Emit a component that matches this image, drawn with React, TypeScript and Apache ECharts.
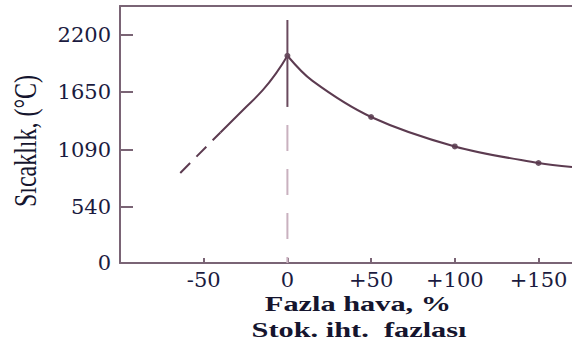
import React, { useEffect, useRef } from "react";
import * as echarts from "echarts";

const xTicks = [-50, 0, 50, 100, 150];
const yTicks = [0, 540, 1090, 1650, 2200];

const riseDashedX = [-64, -40];
const riseDashedY = [869, 1260];
const riseSolidX = [-40, -26.5, -14.6, -6.2, 0];
const riseSolidY = [1260, 1477, 1670, 1844, 2000];
const fallX = [0, 15, 50, 100, 150, 170];
const fallY = [2000, 1757, 1409, 1125, 965, 927];
const markerX = [0, 50, 100, 150];
const markerY = [2000, 1409, 1125, 965];
const stoichTopY = [2345, 1506];
const stoichDashY = [1332, 0];

const zip = (xs: number[], ys: number[]) => xs.map((x, i) => [x, ys[i]]);

const AXIS = "#7a6475";
const CURVE = "#5c3b50";
const LABEL = "#1b1b40";

export default function App() {
  const ref = useRef<HTMLDivElement>(null);
  useEffect(() => {
    if (!ref.current) return;
    const chart = echarts.init(ref.current, null, { renderer: "svg" });
    chart.setOption({
      animation: false,
      grid: { left: 120, right: 0, top: 6, bottom: 84, containLabel: false },
      xAxis: [
        {
          type: "value",
          min: -100,
          max: 170,
          position: "bottom",
          axisLine: { show: true, onZero: false, lineStyle: { color: AXIS, width: 2 } },
          axisTick: { show: true, inside: true, length: 5, customValues: xTicks, lineStyle: { color: AXIS, width: 2 } },
          axisLabel: {
            customValues: xTicks,
            formatter: (v: number) => (v > 0 ? "+" + v : String(v)),
            margin: 6,
            color: LABEL,
            fontFamily: "DejaVu Serif",
            fontSize: 21,
          },
          splitLine: { show: false },
        },
        {
          type: "value",
          min: -100,
          max: 170,
          position: "top",
          axisLine: { show: true, onZero: false, lineStyle: { color: AXIS, width: 2 } },
          axisTick: { show: false },
          axisLabel: { show: false },
          splitLine: { show: false },
        },
      ],
      yAxis: {
        type: "value",
        min: 0,
        max: 2480,
        axisLine: { show: true, onZero: false, lineStyle: { color: AXIS, width: 2 } },
        axisTick: { show: true, inside: true, length: 13, customValues: yTicks, lineStyle: { color: AXIS, width: 2 } },
        axisLabel: {
          customValues: yTicks,
          formatter: (v: number) => String(v),
          margin: 9,
          color: LABEL,
          fontFamily: "DejaVu Serif",
          fontSize: 21,
        },
        splitLine: { show: false },
      },
      series: [
        {
          type: "line",
          data: zip(riseDashedX, riseDashedY),
          symbol: "none",
          lineStyle: { color: CURVE, width: 2, type: [14, 9] },
        },
        {
          type: "line",
          data: zip(riseSolidX, riseSolidY),
          symbol: "none",
          smooth: 0.45,
          lineStyle: { color: CURVE, width: 2 },
        },
        {
          type: "line",
          data: zip(fallX, fallY),
          symbol: "none",
          smooth: 0.35,
          lineStyle: { color: CURVE, width: 2 },
        },
        {
          type: "scatter",
          data: zip(markerX, markerY),
          symbol: "circle",
          symbolSize: 6,
          itemStyle: { color: "#4a2c40" },
        },
        {
          type: "line",
          data: stoichTopY.map((y) => [0, y]),
          symbol: "none",
          lineStyle: { color: "#6a4a5e", width: 2 },
        },
        {
          type: "line",
          data: stoichDashY.map((y) => [0, y]),
          symbol: "none",
          lineStyle: { color: "#c9b1bf", width: 2, type: [26, 18] },
        },
      ],
      graphic: [
        {
          type: "text",
          x: 25,
          y: 141,
          rotation: Math.PI / 2,
          scaleY: 1.35,
          style: {
            text: "Sıcaklık, (°C)",
            fontFamily: "Liberation Serif",
            fontSize: 24,
            fill: "#15152e",
            textAlign: "center",
            textVerticalAlign: "middle",
            align: "center",
            verticalAlign: "middle",
          },
        },
        {
          type: "text",
          x: 358,
          y: 304,
          scaleX: 1.38,
          style: {
            text: "Fazla hava, %",
            fontFamily: "Liberation Serif",
            fontWeight: "bold",
            fontSize: 22,
            fill: "#15152e",
            textAlign: "center",
            textVerticalAlign: "middle",
            align: "center",
            verticalAlign: "middle",
          },
        },
        {
          type: "text",
          x: 359,
          y: 330,
          scaleX: 1.38,
          style: {
            text: "Stok. iht.  fazlası",
            fontFamily: "Liberation Serif",
            fontWeight: "bold",
            fontSize: 22,
            fill: "#15152e",
            textAlign: "center",
            textVerticalAlign: "middle",
            align: "center",
            verticalAlign: "middle",
          },
        },
      ],
    });
    return () => chart.dispose();
  }, []);
  return (
    <div
      ref={ref}
      style={{ position: "absolute", left: 0, top: 0, width: 572, height: 347 }}
    />
  );
}
